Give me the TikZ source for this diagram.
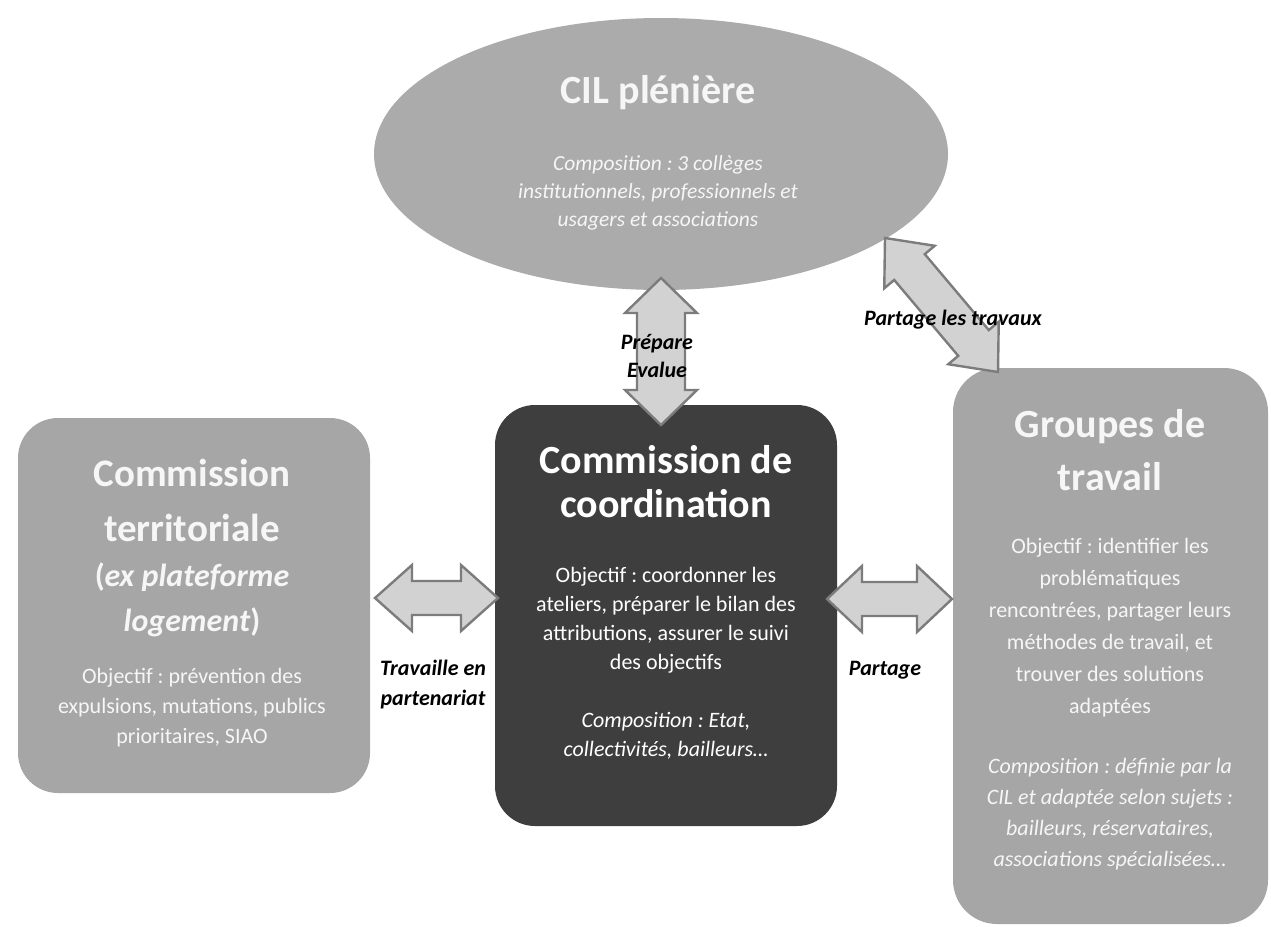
\documentclass[tikz,border=0pt]{standalone}
\usepackage{fontspec}
\setmainfont{Carlito}
\usetikzlibrary{calc,shapes.geometric}
\definecolor{ellgray}{HTML}{ABABAB}
\definecolor{boxgray}{HTML}{A6A6A6}
\definecolor{darkbox}{HTML}{3E3E3E}
\definecolor{arrowfill}{HTML}{D2D2D2}
\definecolor{arrowline}{HTML}{7C7C7C}
\definecolor{softwhite}{HTML}{F6F6F6}
\newcommand{\fs}[2]{\fontsize{#1}{#2}\selectfont}
\newcommand{\blockarrow}[6]{% tipA, tipB, head length, head half width, shaft half width, name
  \path (#1) coordinate (#6A) (#2) coordinate (#6B);
  \coordinate (#6A1) at ($(#6A)!#3!(#6B)$);
  \coordinate (#6B1) at ($(#6B)!#3!(#6A)$);
  \draw[blockarrowstyle] (#6A)
    -- ($(#6A1)!#4!90:(#6B)$) -- ($(#6A1)!#5!90:(#6B)$)
    -- ($(#6B1)!#5!-90:(#6A)$) -- ($(#6B1)!#4!-90:(#6A)$)
    -- (#6B)
    -- ($(#6B1)!#4!90:(#6A)$) -- ($(#6B1)!#5!90:(#6A)$)
    -- ($(#6A1)!#5!-90:(#6B)$) -- ($(#6A1)!#4!-90:(#6B)$)
    -- cycle;
}
\frenchspacing
\begin{document}
\begin{tikzpicture}[x=1pt,y=-1pt,
  blockarrowstyle/.style={fill=arrowfill,draw=arrowline,line width=2.4pt,line join=miter},
  roundbox/.style={rectangle,rounded corners=40pt,inner sep=0pt},
  wtxt/.style={text=softwhite,align=center,inner sep=0pt},
  btxt/.style={text=black,align=center,inner sep=0pt,font=\bfseries\itshape\fs{22}{28}}]
\useasboundingbox (0,0) rectangle (1271,926);
\fill[white] (0,0) rectangle (1271,926);

% shapes
\node[ellipse,fill=ellgray,inner sep=0pt,minimum width=574pt,minimum height=272pt] (cil) at (661,154) {};
\node[roundbox,fill=boxgray,minimum width=352pt,minimum height=375pt] (terr) at (194,605.5) {};
\node[roundbox,fill=darkbox,minimum width=342pt,minimum height=421pt] (coord) at (666,615.5) {};
\node[roundbox,fill=boxgray,rounded corners=44pt,minimum width=315pt,minimum height=556pt] (grp) at (1110.5,646) {};

% connector end points
\coordinate (vtop) at (661,278);
\coordinate (vbot) at (661,425);
\coordinate (dtop) at (885,238);
\coordinate (dbot) at (998,372);
\coordinate (lleft) at (375,598);
\coordinate (lright) at (498,598);
\coordinate (rleft) at (827,599);
\coordinate (rright) at (952,599);

% CIL pleniere text
\node[wtxt,font=\bfseries\fs{40}{44}] (cilt) at (658,93) {CIL plénière};
\node[wtxt,font=\itshape\fs{21.5}{28}] (cilb) at (658,193) {Composition : 3 collèges\\institutionnels, professionnels et\\usagers et associations};

% Commission territoriale text
\node[wtxt,font=\bfseries\fs{39}{55}] (terrt) at (192,500) {Commission\\territoriale};
\node[wtxt,font=\bfseries\fs{32}{45}] (terrs) at (192,600) {(\textit{ex plateforme}\\\textit{logement})};
\node[wtxt,font=\fs{22}{30}] (terrb) at (192,708) {Objectif : prévention des\\expulsions, mutations, publics\\prioritaires, SIAO};

% Commission de coordination text
\node[wtxt,text=white,font=\bfseries\fs{40}{44}] (coordt) at (666,482) {Commission de\\coordination};
\node[wtxt,text=white,font=\fs{22}{29}] (coordb) at (666,620) {Objectif : coordonner les\\ateliers, préparer le bilan des\\attributions, assurer le suivi\\des objectifs};
\node[wtxt,text=white,font=\itshape\fs{22}{29}] (coordc) at (666,736) {Composition : Etat,\\collectivités, bailleurs…};

% Groupes de travail text
\node[wtxt,font=\bfseries\fs{40}{53}] (grpt) at (1110,450) {Groupes de\\travail};
\node[wtxt,font=\fs{22}{32}] (grpb) at (1110,628) {Objectif : identifier les\\problématiques\\rencontrées, partager leurs\\méthodes de travail, et\\trouver des solutions\\adaptées};
\node[wtxt,font=\itshape\fs{22}{31}] (grpc) at (1110,814) {Composition : définie par la\\CIL et adaptée selon sujets :\\bailleurs, réservataires,\\associations spécialisées…};

% block arrows (connectors)
\blockarrow{vtop}{vbot}{35pt}{36pt}{24pt}{v}
\blockarrow{dtop}{dbot}{38pt}{33pt}{20pt}{d}
\blockarrow{lleft}{lright}{37pt}{33pt}{17pt}{l}
\blockarrow{rleft}{rright}{35pt}{33pt}{17pt}{r}

% labels
\node[btxt] (lv) at (657,356) {Prépare\\Evalue};
\node[btxt] (ld) at (953,320) {Partage les travaux};
\node[btxt,font=\bfseries\itshape\fs{22}{30}] (ll) at (433,685) {Travaille en\\partenariat};
\node[btxt] (lr) at (885,670) {Partage};
\end{tikzpicture}
\end{document}
